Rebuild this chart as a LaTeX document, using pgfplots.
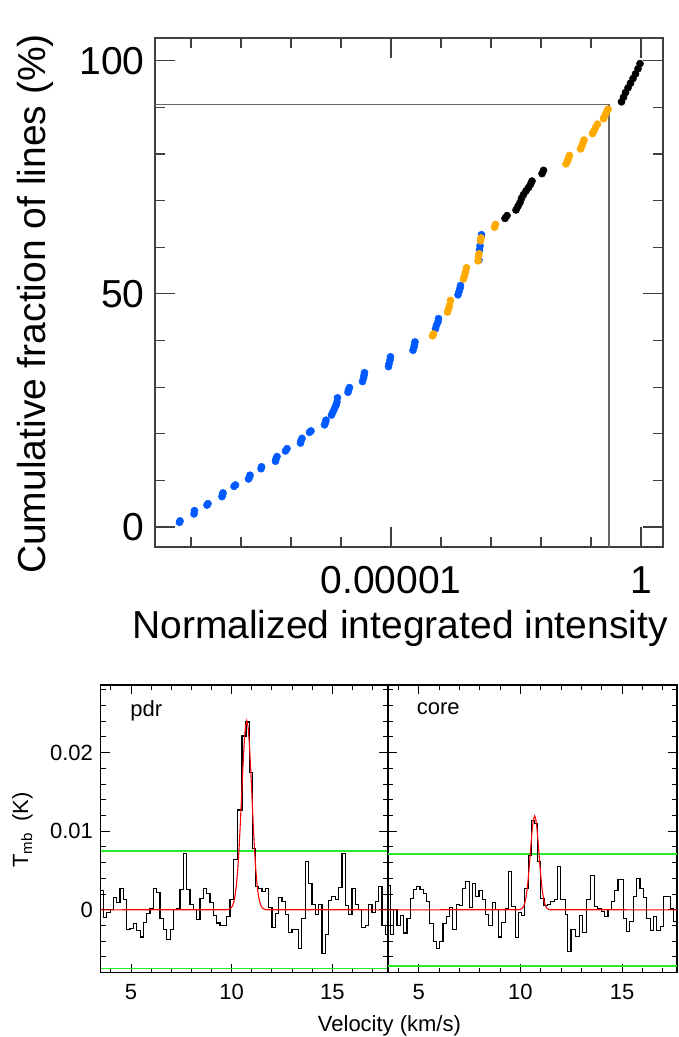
\documentclass[border=0pt]{standalone}
\usepackage{fontspec}
\setmainfont{Liberation Sans}
\usepackage{pgfplots}
\pgfplotsset{compat=1.18}
\definecolor{ptblue}{RGB}{0,90,255}
\definecolor{ptorange}{RGB}{255,170,0}
\definecolor{lgreen}{RGB}{40,235,40}
\definecolor{fitred}{RGB}{255,0,0}
\begin{document}
\begin{tikzpicture}[x=1pt,y=1pt]
\useasboundingbox (0,0) rectangle (678,1037);
% ---------------- top panel ----------------
\begin{axis}[
  scale only axis, width=508pt, height=509pt,
  at={(155pt,490pt)}, anchor=south west,
  xmin=-9.72, xmax=0.44, ymin=-4.3, ymax=104.9,
  xtick={-5,0}, xticklabels={0.00001,1},
  minor xtick={-9,-8,-7,-6,-4,-3,-2,-1},
  ytick={0,50,100}, minor ytick={10,20,30,40,60,70,80,90},
  major tick length=20pt, minor tick length=10pt,
  every tick/.style={line width=1.2pt, black!75},
  axis line style={line width=1.5pt, black!75},
  tick label style={font=\fontsize{39}{41}\selectfont},
  label style={font=\fontsize{39}{41}\selectfont},
  /pgf/number format/assume math mode=true,
  xticklabel style={yshift=-16pt},
  yticklabel style={xshift=-7pt},
  xlabel={Normalized integrated intensity},
  ylabel={Cumulative fraction of lines (\%)},
  xlabel style={at={(axis description cs:0.4823,-0.1788)}, anchor=base},
  ylabel style={at={(axis description cs:-0.2165,0.4774)}, anchor=base, rotate=0},
]
\addplot[black!60, line width=1.5pt] coordinates {(-9.72,90.6) (-0.64,90.6) (-0.64,-4.3)};
\addplot[only marks, mark=*, mark size=3.6pt, color=ptblue] coordinates {
(-9.23,1.0) (-9.22,1.3)
(-8.94,2.8) (-8.93,3.5)
(-8.68,4.7) (-8.66,5.0)
(-8.38,6.5) (-8.37,6.9) (-8.36,7.3)
(-8.14,8.7) (-8.11,9.0)
(-7.85,10.3) (-7.83,10.7) (-7.82,11.1)
(-7.60,12.5) (-7.59,12.9)
(-7.31,14.1) (-7.30,14.6) (-7.28,15.1)
(-7.11,16.3) (-7.08,16.8)
(-6.81,18.0) (-6.80,18.5) (-6.78,19.0)
(-6.63,20.3) (-6.60,20.6)
(-6.33,21.9) (-6.31,22.4) (-6.30,22.9)
(-6.19,24.0) (-6.16,24.7) (-6.13,25.4) (-6.10,26.1) (-6.08,26.8) (-6.07,27.7)
(-5.86,28.9) (-5.85,29.4) (-5.83,29.9)
(-5.57,31.2) (-5.55,31.9) (-5.54,32.5) (-5.53,33.1)
(-5.05,34.4) (-5.04,35.0) (-5.02,35.8) (-5.01,36.5)
(-4.56,37.9) (-4.54,38.6) (-4.53,39.1) (-4.52,39.7)
(-4.11,42.5) (-4.09,43.3) (-4.06,44.0) (-4.05,44.7)
(-3.66,49.8) (-3.64,50.5) (-3.62,51.2) (-3.61,51.8)
(-3.24,57.3) (-3.23,59.4) (-3.22,60.3) (-3.19,62.7)
};
\addplot[only marks, mark=*, mark size=3.6pt, color=ptorange] coordinates {
(-4.17,41.0) (-4.15,41.4)
(-3.87,46.1) (-3.85,46.8) (-3.83,47.5) (-3.81,48.6)
(-3.55,53.2) (-3.53,53.9) (-3.51,54.7) (-3.49,55.6)
(-3.26,57.1) (-3.25,58.0) (-3.24,58.6) (-3.21,61.4) (-3.20,62.0)
(-2.93,64.3) (-2.91,64.9)
(-1.50,77.9) (-1.47,78.5) (-1.45,79.1) (-1.43,79.7)
(-1.21,81.1) (-1.18,81.8) (-1.16,82.4) (-1.14,83.0)
(-0.97,84.4) (-0.94,85.0) (-0.91,85.7) (-0.87,86.4)
(-0.75,87.6) (-0.72,88.3) (-0.69,89.0) (-0.66,89.6)
};
\addplot[only marks, mark=*, mark size=3.6pt, color=black] coordinates {
(-2.72,66.2) (-2.68,66.8)
(-2.50,68.0) (-2.46,68.8) (-2.42,69.6) (-2.39,70.5) (-2.35,71.3) (-2.30,72.1) (-2.25,72.8) (-2.21,73.5) (-2.18,74.2)
(-1.98,75.8) (-1.95,76.5)
(-0.39,91.2) (-0.35,92.2) (-0.31,93.2) (-0.26,94.2) (-0.21,95.2) (-0.16,96.2) (-0.11,97.2) (-0.06,98.3) (-0.02,99.4)
};
\end{axis}
% ---------------- bottom left (pdr) ----------------
\begin{axis}[
  scale only axis, width=287.5pt, height=287.7pt,
  at={(100.5pt,64.3pt)}, anchor=south west,
  xmin=3.48, xmax=17.77, ymin=-0.008, ymax=0.0286,
  xtick={5,10,15}, minor xtick={4,6,7,8,9,11,12,13,14,16,17},
  ytick={0,0.01,0.02}, yticklabels={0,0.01,0.02},
  minor ytick={-0.006,-0.004,-0.002,0.002,0.004,0.006,0.008,0.012,0.014,0.016,0.018,0.022,0.024,0.026,0.028},
  scaled y ticks=false,
  major tick length=9pt, minor tick length=5pt,
  every tick/.style={line width=1pt, black},
  axis line style={line width=1.3pt, black},
  tick label style={font=\fontsize{22}{24}\selectfont},
  label style={font=\fontsize{22}{24}\selectfont},
  /pgf/number format/assume math mode=true,
  xticklabel style={yshift=-8pt},
  yticklabel style={xshift=-4pt},
  xlabel={Velocity (km/s)},
  ylabel={T\raisebox{-0.35ex}{\fontsize{15}{16}\selectfont mb}\ \ (K)},
  xlabel style={at={(axis description cs:1.005,-0.2061)}, anchor=base},
  ylabel style={at={(axis description cs:-0.252,0.496)}, anchor=base, rotate=0},
]
\addplot[lgreen, line width=1.5pt] coordinates {(3.48,0.00746) (17.77,0.00746)};
\addplot[lgreen, line width=1.5pt] coordinates {(3.48,-0.00746) (17.77,-0.00746)};
\addplot[const plot, black, line width=1.2pt] coordinates {
(3.49,0.00246) (3.63,-0.00093) (3.79,-0.00034) (3.96,0.0) (4.12,0.00161) (4.29,0.00093)
(4.45,0.00267) (4.62,0.00127) (4.78,-0.00254) (4.95,-0.00233) (5.12,-0.00178) (5.28,-0.00263)
(5.45,-0.00347) (5.61,-0.00161) (5.78,-0.00042) (5.94,0.00021) (6.11,0.00267) (6.27,0.0022)
(6.44,-0.00106) (6.61,-0.00246) (6.77,-0.00373) (6.94,-0.00246) (7.10,0.0) (7.27,0.00021)
(7.43,0.00254) (7.60,0.00712) (7.76,0.00263) (7.93,0.00064) (8.10,0.0) (8.26,-0.00127)
(8.43,0.00148) (8.59,0.00275) (8.76,0.00203) (8.92,0.00093) (9.09,-0.00076) (9.25,-0.00169)
(9.42,-0.00203) (9.59,-0.00203) (9.75,-0.00085) (9.92,0.00127) (10.10,0.0064) (10.30,0.0127)
(10.51,0.0221) (10.71,0.0239) (10.90,0.0175) (11.04,0.00775) (11.18,0.00296) (11.34,0.00275)
(11.51,0.00233) (11.67,0.00267) (11.84,0.00034) (12.00,-0.0022) (12.17,-0.00051) (12.33,0.00157)
(12.50,0.00106) (12.67,-0.00064) (12.83,-0.00288) (13.00,-0.00246) (13.16,-0.00254) (13.33,-0.00491)
(13.49,-0.00106) (13.66,0.00618) (13.83,0.00339) (13.99,0.00064) (14.16,-0.00064) (14.32,0.00064)
(14.49,-0.00551) (14.65,-0.00318) (14.82,0.00119) (14.98,0.00169) (15.15,0.00127) (15.32,0.00288)
(15.48,0.0072) (15.65,0.00051) (15.81,-0.00064) (15.98,0.00267) (16.14,0.00064) (16.31,0.00008)
(16.47,-0.00224) (16.64,-0.00203) (16.80,0.00064) (16.97,-0.00034) (17.14,0.00106) (17.30,0.00296)
(17.47,-0.00203) (17.63,-0.00318) (17.80,-0.00318)
};
\addplot[fitred, line width=1.1pt] coordinates {
(3.48,0) (9.73,0.00001) (9.858,0.00005) (9.985,0.00027) (10.049,0.00055) (10.113,0.00106)
(10.176,0.00191) (10.240,0.00325) (10.304,0.00520) (10.368,0.00781) (10.431,0.01101)
(10.495,0.01459) (10.559,0.01815) (10.623,0.02122) (10.686,0.02331) (10.750,0.02405)
(10.814,0.02331) (10.878,0.02122) (10.941,0.01815) (11.005,0.01459) (11.069,0.01101)
(11.133,0.00781) (11.196,0.00520) (11.260,0.00325) (11.324,0.00191) (11.388,0.00106)
(11.451,0.00055) (11.515,0.00027) (11.643,0.00005) (11.770,0.00001) (17.77,0)
};
\node[anchor=base west, font=\fontsize{22}{24}\selectfont] at (axis description cs:0.092,0.892) {pdr};
\end{axis}
% ---------------- bottom right (core) ----------------
\begin{axis}[
  scale only axis, width=289pt, height=287.7pt,
  at={(388pt,64.3pt)}, anchor=south west,
  xmin=3.49, xmax=17.70, ymin=-0.008, ymax=0.0286,
  xtick={5,10,15}, minor xtick={4,6,7,8,9,11,12,13,14,16,17},
  ytick={0,0.01,0.02}, yticklabels={},
  minor ytick={-0.006,-0.004,-0.002,0.002,0.004,0.006,0.008,0.012,0.014,0.016,0.018,0.022,0.024,0.026,0.028},
  scaled y ticks=false,
  major tick length=9pt, minor tick length=5pt,
  every tick/.style={line width=1pt, black},
  axis line style={line width=1.3pt, black},
  tick label style={font=\fontsize{22}{24}\selectfont},
  /pgf/number format/assume math mode=true,
  xticklabel style={yshift=-8pt},
]
\addplot[lgreen, line width=1.5pt] coordinates {(3.49,0.00712) (17.70,0.00712)};
\addplot[lgreen, line width=1.5pt] coordinates {(3.49,-0.00712) (17.70,-0.00712)};
\addplot[const plot, black, line width=1.2pt] coordinates {
(3.45,0.00305) (3.61,-0.00318) (3.77,0.0) (3.93,-0.00203) (4.09,-0.00076) (4.26,-0.00296)
(4.42,-0.00106) (4.58,0.00148) (4.74,0.00263) (4.90,0.00296) (5.06,0.00263) (5.22,0.00203)
(5.38,0.00106) (5.55,-0.00178) (5.71,-0.00402) (5.87,-0.00496) (6.03,-0.00402) (6.19,-0.00178)
(6.35,-0.00085) (6.51,0.00030) (6.67,-0.00254) (6.84,0.00064) (7.00,0.00051) (7.16,0.00275)
(7.32,0.0036) (7.48,0.00034) (7.64,0.0033) (7.80,0.00169) (7.96,0.00246) (8.12,0.00127)
(8.29,-0.00064) (8.45,-0.00203) (8.61,0.00093) (8.77,0.0) (8.93,-0.00347) (9.09,-0.00161)
(9.25,0.00021) (9.41,0.00487) (9.58,0.00042) (9.74,-0.00352) (9.90,-0.00034) (10.06,-0.00076)
(10.22,0.00275) (10.38,0.00686) (10.55,0.01135) (10.71,0.01093) (10.86,0.00614) (10.99,0.00148)
(11.16,0.00051) (11.33,0.00064) (11.49,0.00106) (11.66,0.00127) (11.82,0.0055) (11.99,0.00136)
(12.20,-0.00064) (12.32,-0.00529) (12.49,-0.00246) (12.70,-0.00339) (12.90,-0.00076) (13.07,-0.00288)
(13.26,0.00127) (13.43,0.00432) (13.64,0.00042) (13.81,0.00021) (13.97,-0.0002) (14.14,-0.00085)
(14.31,0.0) (14.47,0.00106) (14.64,0.00246) (14.80,0.00381) (15.05,-0.00106) (15.22,-0.00275)
(15.38,-0.00148) (15.55,0.00169) (15.71,0.00402) (15.88,0.00275) (16.04,0.00161) (16.21,-0.00106)
(16.38,-0.00267) (16.54,-0.00085) (16.71,-0.00263) (16.87,-0.00212) (17.04,0.00169) (17.20,0.00169)
(17.37,0.00021) (17.53,-0.00148) (17.78,-0.00148)
};
\addplot[fitred, line width=1.1pt] coordinates {
(3.49,0) (9.852,0.000004) (9.958,0.000026) (10.064,0.000133) (10.117,0.000272) (10.170,0.000525)
(10.223,0.00095) (10.276,0.00162) (10.329,0.00258) (10.382,0.00388) (10.435,0.00547)
(10.488,0.00725) (10.541,0.00902) (10.594,0.01055) (10.647,0.01158) (10.700,0.01195)
(10.753,0.01158) (10.806,0.01055) (10.859,0.00902) (10.912,0.00725) (10.965,0.00547)
(11.018,0.00388) (11.071,0.00258) (11.124,0.00162) (11.177,0.00095) (11.230,0.000525)
(11.283,0.000272) (11.336,0.000133) (11.442,0.000026) (11.548,0.000004) (17.70,0)
};
\node[anchor=base west, font=\fontsize{22}{24}\selectfont] at (axis description cs:0.0875,0.896) {core};
\end{axis}
\end{tikzpicture}
\end{document}
